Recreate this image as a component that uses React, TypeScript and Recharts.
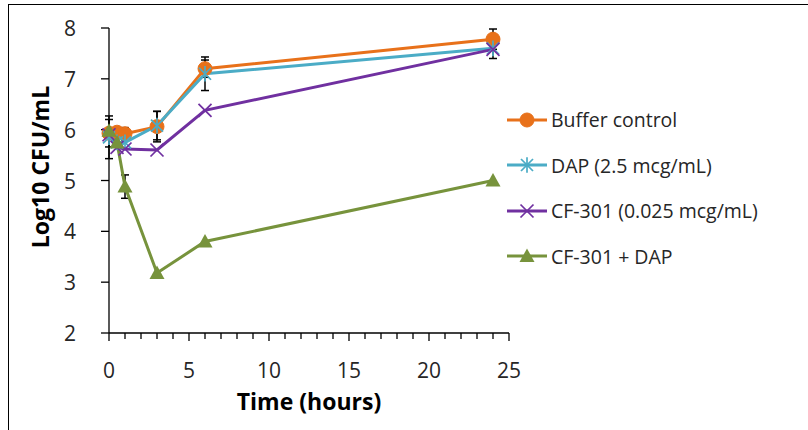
import React from "react";
import { ErrorBar, Line, LineChart, XAxis, YAxis } from "recharts";

const hours = [0, 0.5, 1, 3, 6, 24];

const bufferControl = [5.93, 5.95, 5.92, 6.06, 7.2, 7.78];
const bufferErr = [0.27, null, 0.12, 0.3, 0.17, 0.2];
const dap = [5.85, 5.75, 5.75, 6.08, 7.1, 7.6];
const dapErr = [0.42, null, null, 0.28, 0.33, 0.2];
const cf301 = [5.9, 5.65, 5.62, 5.6, 6.38, 7.58];
const cf301Err = [null, null, null, null, null, null];
const combo = [5.98, 5.75, 4.88, 3.18, 3.8, 5.0];
const comboErr = [null, null, 0.23, null, null, null];

const xTicks = Array.from({ length: 26 }, (_, i) => i);
const yTicks = [2, 3, 4, 5, 6, 7, 8];

const FONT = "'Open Sans', 'Liberation Sans', sans-serif";
const TEXT = "#262626";

type Shape = "circle" | "star" | "cross" | "triangle";

const series = [
  { name: "Buffer control", color: "#E8711A", shape: "circle" as Shape, values: bufferControl, errs: bufferErr },
  { name: "DAP (2.5 mcg/mL)", color: "#4BACC6", shape: "star" as Shape, values: dap, errs: dapErr },
  { name: "CF-301 (0.025 mcg/mL)", color: "#7030A0", shape: "cross" as Shape, values: cf301, errs: cf301Err },
  { name: "CF-301 + DAP", color: "#77933C", shape: "triangle" as Shape, values: combo, errs: comboErr },
];

function toRows(values: number[], errs: (number | null)[]) {
  return hours.map((t, i) => ({ t, v: values[i], err: errs[i] }));
}

function Marker({ cx, cy, shape, color }: { cx: number; cy: number; shape: Shape; color: string }) {
  if (shape === "circle") return <circle cx={cx} cy={cy} r={7} fill={color} stroke={color} />;
  if (shape === "star") {
    const r = 6;
    return (
      <g stroke={color} strokeWidth={1.7}>
        <line x1={cx - r} y1={cy - r} x2={cx + r} y2={cy + r} />
        <line x1={cx - r} y1={cy + r} x2={cx + r} y2={cy - r} />
        <line x1={cx} y1={cy - r * 1.3} x2={cx} y2={cy + r * 1.3} />
      </g>
    );
  }
  if (shape === "cross") {
    const r = 6.5;
    return (
      <g stroke={color} strokeWidth={1.7}>
        <line x1={cx - r} y1={cy - r} x2={cx + r} y2={cy + r} />
        <line x1={cx - r} y1={cy + r} x2={cx + r} y2={cy - r} />
      </g>
    );
  }
  return <polygon points={`${cx},${cy - 7.5} ${cx + 7.5},${cy + 6} ${cx - 7.5},${cy + 6}`} fill={color} />;
}

function XTick({ x, y, payload }: any) {
  const major = payload.value % 5 === 0;
  return (
    <g>
      <line x1={x} y1={y} x2={x} y2={y + (major ? 8 : 6)} stroke="#000" strokeWidth={1.3} />
      {major && (
        <text x={x} y={y + 45} textAnchor="middle" fontFamily={FONT} fontSize={21} fill={TEXT}>
          {payload.value}
        </text>
      )}
    </g>
  );
}

function YTick({ x, y, payload }: any) {
  return (
    <text x={x - 25} y={y} dy={8} textAnchor="end" fontFamily={FONT} fontSize={21} fill={TEXT}>
      {payload.value}
    </text>
  );
}

function XTitle({ viewBox }: any) {
  return (
    <text
      x={viewBox.x + viewBox.width / 2}
      y={410}
      textAnchor="middle"
      fontFamily={FONT}
      fontSize={23}
      fontWeight={700}
      fill="#000"
    >
      Time (hours)
    </text>
  );
}

function YTitle() {
  return (
    <text
      x={0}
      y={0}
      transform="translate(40, 167) rotate(-90)"
      textAnchor="middle"
      dominantBaseline="central"
      fontFamily={FONT}
      fontSize={23}
      fontWeight={700}
      fill="#000"
    >
      Log10 CFU/mL
    </text>
  );
}

function LegendBox() {
  return (
    <div style={{ position: "absolute", left: 505, top: 97, fontFamily: FONT, fontSize: 19.5, color: TEXT }}>
      {series.map((s) => (
        <div key={s.name} style={{ display: "flex", alignItems: "center", height: 45.5, whiteSpace: "nowrap" }}>
          <svg width={44} height={20} style={{ marginRight: 2 }}>
            <line x1={2} y1={10} x2={42} y2={10} stroke={s.color} strokeWidth={3} />
            <Marker cx={22} cy={10} shape={s.shape} color={s.color} />
          </svg>
          <span>{s.name}</span>
        </div>
      ))}
    </div>
  );
}

export default function App() {
  return (
    <div style={{ position: "absolute", left: 0, top: 0, width: 808, height: 430, background: "#fff", overflow: "hidden" }}>
      <div
        style={{
          position: "absolute",
          left: 8,
          top: 4,
          width: 820,
          height: 440,
          borderTop: "1.5px solid #000",
          borderLeft: "1.5px solid #000",
        }}
      />
      <LineChart width={808} height={430} margin={{ top: 28, right: 299, bottom: 57, left: 49 }}>
        <XAxis
          dataKey="t"
          type="number"
          domain={[0, 25]}
          ticks={xTicks}
          interval={0}
          allowDuplicatedCategory={false}
          axisLine={{ stroke: "#000", strokeWidth: 1.3 }}
          tickLine={false}
          tickSize={0}
          tickMargin={0}
          tick={<XTick />}
          height={40}
          label={<XTitle />}
        />
        <YAxis
          type="number"
          domain={[2, 8]}
          ticks={yTicks}
          interval={0}
          width={60}
          axisLine={{ stroke: "#000", strokeWidth: 1.3 }}
          tickLine={{ stroke: "#000", strokeWidth: 1.3 }}
          tickSize={8}
          tickMargin={0}
          tick={<YTick />}
          label={<YTitle />}
        />
        {series.map((s) => (
          <Line
            key={s.name}
            data={toRows(s.values, s.errs)}
            dataKey="v"
            name={s.name}
            stroke={s.color}
            strokeWidth={3}
            isAnimationActive={false}
            dot={(p: any) => <Marker key={`${s.name}-${p.index}`} cx={p.cx} cy={p.cy} shape={s.shape} color={s.color} />}
            activeDot={false}
          >
            <ErrorBar dataKey="err" direction="y" width={4} stroke="#000" strokeWidth={1.5} />
          </Line>
        ))}
      </LineChart>
      <LegendBox />
    </div>
  );
}
